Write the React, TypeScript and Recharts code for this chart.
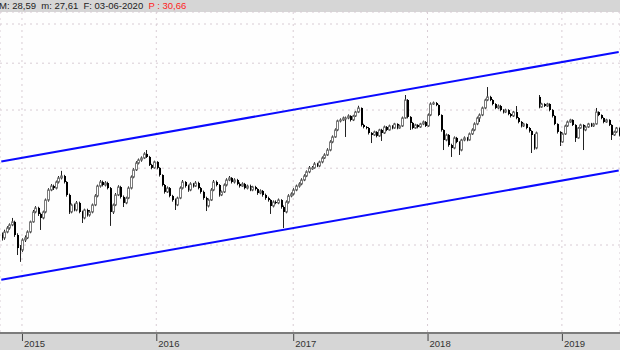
import { ComposedChart, Bar, Line, XAxis, YAxis, CartesianGrid } from "recharts";

// weekly candles, first week 2014-11-07
const START = Date.UTC(2014, 10, 7);
const WEEK = 7 * 24 * 3600 * 1000;

const opens = [
  16.68, 16.48, 16.89, 17.17, 17.39, 17.61, 16.68, 15.80, 15.67, 16.34,
  16.48, 16.89, 17.61, 18.35, 18.66, 18.20, 17.90, 18.35, 19.28, 20.10,
  20.43, 20.26, 20.78, 21.13, 21.30, 20.78, 19.69, 18.35, 18.89, 18.50,
  19.05, 18.35, 17.90, 18.50, 18.12, 18.35, 18.89, 19.61, 20.43, 20.78,
  20.52, 20.69, 20.26, 18.35, 18.89, 19.69, 20.35, 19.53, 19.05, 19.44,
  20.26, 21.21, 21.85, 22.48, 22.76, 22.95, 23.34, 23.05, 22.30, 22.03,
  22.58, 22.03, 21.39, 20.52, 19.94, 20.26, 19.61, 19.28, 18.89, 19.44,
  20.26, 20.78, 20.43, 20.10, 20.61, 20.43, 20.69, 20.26, 19.94, 19.44,
  18.81, 19.28, 20.10, 20.78, 20.52, 19.69, 19.94, 20.52, 20.95, 21.13,
  20.78, 20.95, 20.61, 20.43, 20.61, 20.26, 20.43, 20.10, 20.35, 20.18,
  19.85, 20.02, 19.69, 19.44, 19.28, 18.81, 19.12, 19.05, 19.28, 18.73,
  18.35, 19.12, 19.61, 19.77, 20.10, 20.43, 20.61, 20.95, 21.30, 21.67,
  22.03, 22.03, 22.39, 22.21, 22.58, 22.95, 23.24, 23.72, 24.53, 25.04,
  25.78, 26.76, 26.87, 27.09, 27.09, 27.32, 26.87, 27.32, 27.77, 28.24,
  26.32, 26.10, 25.99, 25.46, 25.25, 25.57, 25.15, 25.78, 25.46, 26.10,
  25.78, 26.21, 25.99, 26.43, 25.99, 26.21, 27.09, 29.19, 27.21, 26.54,
  25.99, 26.32, 26.10, 26.43, 26.65, 26.21, 27.43, 28.71, 28.83, 28.59,
  27.43, 25.78, 24.73, 25.25, 24.22, 23.92, 24.94, 24.53, 23.72, 24.73,
  24.94, 24.73, 25.36, 25.78, 26.43, 27.09, 27.43, 28.24, 29.19, 29.56,
  29.19, 28.71, 28.24, 28.47, 28.00, 27.77, 28.00, 27.54, 27.32, 27.77,
  27.09, 26.65, 26.21, 26.43, 25.99, 25.67, 25.25, 23.92, 29.56, 28.35,
  28.71, 28.47, 28.71, 28.00, 27.32, 26.43, 25.57, 24.53, 25.36, 26.21,
  26.65, 26.87, 26.32, 24.94, 25.99, 26.32, 25.78, 26.10, 26.43, 26.21,
  26.43, 27.77, 27.43, 27.09, 26.65, 26.87, 26.32, 25.25, 25.57, 25.99,
];

const highs = [
  16.85, 17.05, 17.30, 17.50, 17.90, 17.70, 16.80, 16.00, 16.45, 16.65,
  17.00, 17.70, 18.50, 18.80, 18.75, 18.30, 18.45, 19.40, 20.25, 20.60,
  20.55, 20.90, 21.30, 21.76, 21.40, 20.85, 19.80, 19.00, 19.00, 19.20,
  19.15, 18.45, 18.60, 18.60, 18.50, 19.00, 19.75, 20.55, 20.95, 20.90,
  20.85, 20.80, 20.35, 19.00, 19.85, 20.50, 20.45, 19.65, 19.55, 20.40,
  21.35, 22.00, 22.65, 22.90, 23.10, 23.50, 23.72, 23.15, 22.40, 22.70,
  22.65, 22.10, 21.45, 20.60, 20.40, 20.35, 19.70, 19.40, 19.55, 20.40,
  20.95, 20.85, 20.55, 20.75, 20.70, 20.85, 20.80, 20.35, 20.05, 19.55,
  19.40, 20.25, 20.95, 20.90, 20.60, 20.05, 20.65, 21.10, 21.30, 21.20,
  21.10, 21.05, 20.75, 20.75, 20.70, 20.55, 20.55, 20.45, 20.45, 20.25,
  20.15, 20.10, 19.80, 19.55, 19.35, 19.25, 19.25, 19.40, 19.35, 18.85,
  19.25, 19.75, 19.90, 20.25, 20.55, 20.75, 21.10, 21.45, 21.80, 22.20,
  22.20, 22.55, 22.50, 22.70, 23.10, 23.40, 23.90, 24.70, 25.20, 25.95,
  26.90, 27.05, 27.25, 27.25, 27.50, 27.40, 27.45, 27.90, 28.50, 28.30,
  26.45, 26.20, 26.10, 25.55, 25.70, 25.65, 25.90, 25.90, 26.25, 26.20,
  26.35, 26.30, 26.55, 26.50, 26.35, 27.25, 29.80, 29.30, 27.30, 26.65,
  26.45, 26.40, 26.55, 26.80, 26.75, 27.60, 28.90, 29.00, 28.95, 28.65,
  27.50, 25.85, 25.40, 25.35, 24.35, 25.10, 25.05, 24.60, 24.85, 25.10,
  25.05, 25.50, 25.95, 26.60, 27.25, 27.60, 28.40, 29.35, 30.80, 29.70,
  29.30, 28.80, 28.65, 28.60, 28.10, 28.15, 28.10, 27.65, 27.90, 28.47,
  27.20, 26.75, 26.55, 26.50, 26.10, 25.75, 25.35, 25.60, 29.80, 28.85,
  28.80, 28.85, 28.80, 28.10, 27.40, 26.50, 25.65, 25.50, 26.35, 26.80,
  27.00, 26.95, 26.40, 26.10, 26.45, 26.40, 26.25, 26.55, 26.55, 26.55,
  28.24, 27.85, 27.50, 27.15, 27.00, 26.95, 26.40, 25.70, 26.10, 26.05,
];

const lows = [
  16.30, 16.35, 16.80, 17.05, 17.30, 16.55, 15.35, 14.92, 15.55, 16.20,
  16.40, 16.80, 17.55, 18.25, 18.05, 17.03, 17.80, 18.25, 19.15, 20.00,
  20.10, 20.15, 20.65, 21.00, 20.65, 19.55, 18.20, 18.25, 18.40, 18.40,
  18.25, 17.53, 17.80, 18.00, 18.00, 18.25, 18.80, 19.50, 20.30, 20.40,
  20.40, 20.15, 17.32, 18.20, 18.80, 19.60, 19.40, 18.73, 18.95, 19.35,
  20.15, 21.10, 21.75, 22.35, 22.60, 22.85, 22.95, 22.20, 21.90, 21.95,
  21.90, 21.25, 20.40, 19.80, 19.85, 19.50, 19.15, 18.50, 18.80, 19.35,
  20.15, 20.30, 19.95, 20.00, 20.30, 20.35, 20.15, 19.80, 19.30, 18.42,
  18.70, 19.20, 20.00, 20.40, 19.55, 19.60, 19.85, 20.40, 20.85, 20.65,
  20.65, 20.50, 20.30, 20.35, 20.15, 20.15, 20.00, 20.00, 20.05, 19.70,
  19.75, 19.55, 19.30, 19.15, 18.20, 18.70, 18.95, 18.95, 18.60, 17.17,
  18.25, 19.00, 19.50, 19.65, 20.00, 20.30, 20.50, 20.85, 21.20, 21.55,
  21.85, 21.95, 22.10, 22.10, 22.45, 22.85, 23.15, 23.60, 24.40, 24.95,
  25.65, 26.60, 26.75, 25.04, 26.95, 26.70, 26.75, 27.20, 27.65, 26.15,
  25.95, 25.85, 25.30, 24.42, 25.15, 25.00, 25.05, 24.63, 25.35, 25.65,
  25.70, 25.85, 25.90, 25.85, 25.90, 26.10, 27.00, 27.05, 25.78, 25.85,
  25.90, 25.95, 26.00, 26.30, 26.10, 26.10, 27.30, 28.60, 28.45, 27.30,
  25.60, 23.72, 24.60, 24.05, 23.05, 23.80, 24.40, 23.24, 23.60, 24.60,
  24.60, 24.65, 25.25, 25.65, 26.30, 26.65, 27.30, 28.10, 29.05, 29.05,
  28.55, 28.10, 28.10, 27.85, 27.60, 27.65, 27.40, 27.15, 27.20, 26.95,
  26.50, 26.05, 26.10, 25.85, 25.50, 23.43, 23.75, 23.80, 28.20, 28.25,
  28.35, 28.35, 27.85, 27.15, 26.30, 25.40, 24.12, 24.45, 25.25, 26.10,
  26.55, 26.20, 24.53, 24.85, 25.90, 23.72, 25.65, 26.00, 26.10, 26.10,
  26.35, 27.30, 26.95, 26.50, 26.55, 26.20, 24.73, 25.15, 25.45, 25.10,
];

const closes = [
  16.48, 16.89, 17.17, 17.39, 17.61, 16.68, 15.80, 15.67, 16.34, 16.48,
  16.89, 17.61, 18.35, 18.66, 18.20, 17.90, 18.35, 19.28, 20.10, 20.43,
  20.26, 20.78, 21.13, 21.30, 20.78, 19.69, 18.35, 18.89, 18.50, 19.05,
  18.35, 17.90, 18.50, 18.12, 18.35, 18.89, 19.61, 20.43, 20.78, 20.52,
  20.69, 20.26, 18.35, 18.89, 19.69, 20.35, 19.53, 19.05, 19.44, 20.26,
  21.21, 21.85, 22.48, 22.76, 22.95, 23.34, 23.05, 22.30, 22.03, 22.58,
  22.03, 21.39, 20.52, 19.94, 20.26, 19.61, 19.28, 18.89, 19.44, 20.26,
  20.78, 20.43, 20.10, 20.61, 20.43, 20.69, 20.26, 19.94, 19.44, 18.81,
  19.28, 20.10, 20.78, 20.52, 19.69, 19.94, 20.52, 20.95, 21.13, 20.78,
  20.95, 20.61, 20.43, 20.61, 20.26, 20.43, 20.10, 20.35, 20.18, 19.85,
  20.02, 19.69, 19.44, 19.28, 18.81, 19.12, 19.05, 19.28, 18.73, 18.35,
  19.12, 19.61, 19.77, 20.10, 20.43, 20.61, 20.95, 21.30, 21.67, 22.03,
  22.03, 22.39, 22.21, 22.58, 22.95, 23.24, 23.72, 24.53, 25.04, 25.78,
  26.76, 26.87, 27.09, 27.09, 27.32, 26.87, 27.32, 27.77, 28.24, 26.32,
  26.10, 25.99, 25.46, 25.25, 25.57, 25.15, 25.78, 25.46, 26.10, 25.78,
  26.21, 25.99, 26.43, 25.99, 26.21, 27.09, 29.19, 27.21, 26.54, 25.99,
  26.32, 26.10, 26.43, 26.65, 26.21, 27.43, 28.71, 28.83, 28.59, 27.43,
  25.78, 24.73, 25.25, 24.22, 23.92, 24.94, 24.53, 23.72, 24.73, 24.94,
  24.73, 25.36, 25.78, 26.43, 27.09, 27.43, 28.24, 29.19, 29.56, 29.19,
  28.71, 28.24, 28.47, 28.00, 27.77, 28.00, 27.54, 27.32, 27.77, 27.09,
  26.65, 26.21, 26.43, 25.99, 25.67, 25.25, 23.92, 25.46, 28.35, 28.71,
  28.47, 28.71, 28.00, 27.32, 26.43, 25.57, 24.53, 25.36, 26.21, 26.65,
  26.87, 26.32, 24.94, 25.99, 26.32, 25.78, 26.10, 26.43, 26.21, 26.43,
  27.77, 27.43, 27.09, 26.65, 26.87, 26.32, 25.25, 25.57, 25.99, 25.25,
];

// trend channel, value at first and last week
const channelUpper = [22.61, 35.62];
const channelLower = [13.85, 21.79];

const priceTicks = [16, 22, 28, 34, 40];
const priceDomain = [11.11, 42.04];

const last = closes.length - 1;

const data = closes.map((c, i) => ({
  date: new Date(START + i * WEEK).toISOString().slice(0, 10),
  open: opens[i],
  high: highs[i],
  low: lows[i],
  close: c,
  range: [lows[i], highs[i]],
  upper: i === 0 ? channelUpper[0] : i === last ? channelUpper[1] : null,
  lower: i === 0 ? channelLower[0] : i === last ? channelLower[1] : null,
}));

const yearTicks = data
  .filter((d, i) => i > 0 && d.date.slice(0, 4) !== data[i - 1].date.slice(0, 4))
  .map((d) => d.date);

const Candle = (props: any) => {
  const { x, y, width, height, payload } = props;
  if (!payload) return null;
  const { open, close, high, low } = payload;
  const top = Math.min(y, y + height);
  const bot = Math.max(y, y + height);
  const lh = Math.log(high);
  const ll = Math.log(low);
  // log scale: interpolate inside the high-low span
  const py = (v: number) => (lh === ll ? top : top + ((bot - top) * (lh - Math.log(v))) / (lh - ll));
  const px = Math.round(x + width / 2);
  const up = close >= open;
  const y1 = py(Math.max(open, close));
  const y2 = py(Math.min(open, close));
  return (
    <g>
      <line x1={px + 0.5} x2={px + 0.5} y1={top} y2={bot} stroke="#222" strokeWidth={1} />
      {up ? (
        <rect
          x={px - 0.5}
          y={y1}
          width={2}
          height={Math.max(1, y2 - y1)}
          fill="#fff"
          stroke="#7a7a7a"
          strokeWidth={1}
        />
      ) : (
        <rect x={px} y={y1} width={2} height={Math.max(1, y2 - y1)} fill="#000" />
      )}
    </g>
  );
};

const YearTick = (props: any) => {
  const { x, y, payload } = props;
  return (
    <g>
      <line x1={x + 0.5} x2={x + 0.5} y1={y + 1} y2={y + 8} stroke="#444" />
      <text x={x + 2} y={y + 14} fontSize={9.5} fill="#333" fontFamily="Liberation Sans, Arial, sans-serif">
        {String(payload.value).slice(0, 4)}
      </text>
    </g>
  );
};

export default function App() {
  return (
    <div
      style={{
        position: "absolute",
        left: 0,
        top: 0,
        width: 620,
        height: 350,
        overflow: "hidden",
        background: "#d6d6d6",
      }}
    >
      <div
        style={{
          position: "absolute",
          left: -1,
          top: 0,
          height: 12,
          lineHeight: "12px",
          fontSize: 9.5,
          fontFamily: "Liberation Sans, Arial, sans-serif",
          color: "#222",
          whiteSpace: "pre",
        }}
      >
        {"M: 28,59  m: 27,61  F: 03-06-2020  "}
        <span style={{ color: "#f22" }}>P : 30,66</span>
      </div>
      <ComposedChart
        width={620}
        height={350}
        data={data}
        margin={{ top: 12, right: 0, bottom: 0, left: 0 }}
        barCategoryGap={0}
      >
        <CartesianGrid fill="#fefefe" stroke="#d8ccd4" strokeDasharray="2 4" />
        <XAxis
          dataKey="date"
          ticks={yearTicks}
          interval={0}
          height={17}
          tickSize={0}
          tickMargin={0}
          tickLine={false}
          axisLine={{ stroke: "#7c7c7c", strokeWidth: 2 }}
          tick={<YearTick />}
        />
        <YAxis hide scale="log" domain={priceDomain} ticks={priceTicks} allowDataOverflow />
        <Bar dataKey="range" shape={<Candle />} isAnimationActive={false} />
        <Line
          type="linear"
          dataKey="upper"
          stroke="#0a0aff"
          strokeWidth={2}
          dot={false}
          connectNulls
          isAnimationActive={false}
        />
        <Line
          type="linear"
          dataKey="lower"
          stroke="#0a0aff"
          strokeWidth={2}
          dot={false}
          connectNulls
          isAnimationActive={false}
        />
      </ComposedChart>
    </div>
  );
}
